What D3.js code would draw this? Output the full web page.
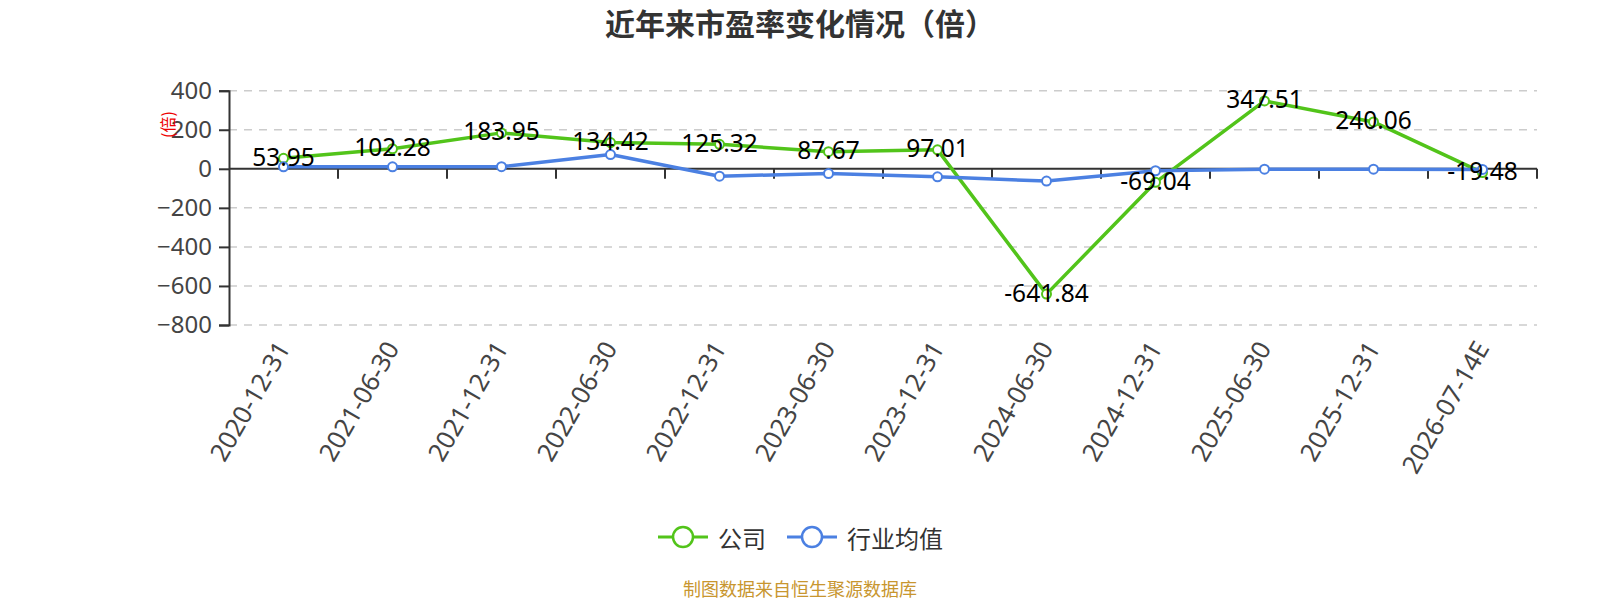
<!DOCTYPE html>
<html>
<head>
<meta charset="utf-8">
<script src="https://cdn.jsdelivr.net/npm/d3@7"></script>
<style>
  html, body { margin: 0; padding: 0; background: #fff; }
  svg { display: block; }
  text { font-family: "Noto Sans", "Noto Sans CJK SC", sans-serif; }
</style>
</head>
<body>
<svg id="chart" width="1600" height="600"></svg>
<script>
const categories = ["2020-12-31","2021-06-30","2021-12-31","2022-06-30","2022-12-31","2023-06-30","2023-12-31","2024-06-30","2024-12-31","2025-06-30","2025-12-31","2026-07-14E"];
const companyPE = [53.95, 102.28, 183.95, 134.42, 125.32, 87.67, 97.01, -641.84, -69.04, 347.51, 240.06, -19.48];
const industryPE = [10, 10, 11, 73, -38, -24, -41, -63, -10, -2, -2, -3];
const yTicks = [400, 200, 0, -200, -400, -600, -800];
const seriesNames = ["公司", "行业均值"];
const titleText = "近年来市盈率变化情况（倍）";
const yAxisName = "(倍)";
const sourceText = "制图数据来自恒生聚源数据库";

(function () {
const GREEN = "#52c41a";
const BLUE = "#4b80e2";

const svg = d3.select("#chart");
const pLeft = 229, pRight = 1537, pTop = 90.7, pBottom = 325;

const x = d3.scaleBand().domain(categories).range([pLeft, pRight]);
const cx = d => x(d) + x.bandwidth() / 2;
const y = d3.scaleLinear().domain([-800, 400]).range([pBottom, pTop]);

// Title
svg.append("text")
  .attr("x", 800).attr("y", 22)
  .attr("text-anchor", "middle").attr("dominant-baseline", "central")
  .style("font-family", "'Noto Sans CJK SC', sans-serif")
  .style("font-size", "30px").style("font-weight", "bold").style("fill", "#333")
  .text(titleText);

// Grid lines
svg.append("g").selectAll("line")
  .data(yTicks.filter(t => t !== 0))
  .join("line")
  .attr("x1", pLeft).attr("x2", pRight)
  .attr("y1", d => y(d)).attr("y2", d => y(d))
  .attr("stroke", "#ccc").attr("stroke-width", 1.5)
  .attr("stroke-dasharray", "8,7");

// Y axis
const yAxis = d3.axisLeft(y).tickValues(yTicks).tickSize(10).tickPadding(7);
const gy = svg.append("g").attr("transform", `translate(${pLeft},0)`).call(yAxis);
gy.select(".domain").attr("stroke", "#333").attr("stroke-width", 2);
gy.selectAll(".tick line").attr("stroke", "#333").attr("stroke-width", 2);
gy.selectAll(".tick text")
  .style("font-size", "24px").style("fill", "#444")
  .style("font-family", "'Noto Sans', sans-serif");

// Y axis name
svg.append("text")
  .attr("transform", "translate(167,124.5) rotate(-90)")
  .attr("text-anchor", "middle").attr("dominant-baseline", "central")
  .style("font-size", "16px").style("fill", "#e00")
  .style("font-family", "'Noto Sans CJK SC', sans-serif")
  .text(yAxisName);

// X axis line at zero
const gx = svg.append("g").attr("transform", `translate(0,${y(0)})`);
gx.append("line").attr("x1", pLeft).attr("x2", pRight).attr("y1", 0).attr("y2", 0)
  .attr("stroke", "#333").attr("stroke-width", 2);
const boundaries = categories.map(c => x(c) + x.bandwidth());
gx.selectAll("line.tk").data(boundaries).join("line").attr("class", "tk")
  .attr("x1", d => d).attr("x2", d => d).attr("y1", 0).attr("y2", 10)
  .attr("stroke", "#333").attr("stroke-width", 2);

// X labels at bottom
svg.append("g").selectAll("text").data(categories).join("text")
  .attr("transform", d => `translate(${cx(d) - 1},${pBottom + 18}) rotate(-60)`)
  .attr("text-anchor", "end").attr("dominant-baseline", "central")
  .style("font-size", "25.5px").style("fill", "#444")
  .text(d => d);

// Lines
const line = d3.line().x((d, i) => cx(categories[i])).y(d => y(d));
function drawSeries(vals, color) {
  svg.append("path").datum(vals).attr("d", line)
    .attr("fill", "none").attr("stroke", color).attr("stroke-width", 3.5)
    .attr("stroke-linejoin", "round");
  svg.append("g").selectAll("circle").data(vals).join("circle")
    .attr("cx", (d, i) => cx(categories[i])).attr("cy", d => y(d))
    .attr("r", 4.5).attr("fill", "#fff").attr("stroke", color).attr("stroke-width", 2);
}
drawSeries(companyPE, GREEN);
drawSeries(industryPE, BLUE);

// Data labels
svg.append("g").selectAll("text").data(companyPE).join("text")
  .attr("x", (d, i) => cx(categories[i])).attr("y", d => y(d) - 2)
  .attr("text-anchor", "middle").attr("dominant-baseline", "central")
  .style("font-size", "24.5px").style("fill", "#000")
  .text(d => d.toFixed(2));

// Legend
const legendItems = [
  { name: seriesNames[0], color: GREEN, x0: 658 },
  { name: seriesNames[1], color: BLUE, x0: 787 }
];
const lg = svg.append("g");
legendItems.forEach(it => {
  lg.append("line").attr("x1", it.x0).attr("x2", it.x0 + 50).attr("y1", 537).attr("y2", 537)
    .attr("stroke", it.color).attr("stroke-width", 3);
  lg.append("circle").attr("cx", it.x0 + 25).attr("cy", 537).attr("r", 10)
    .attr("fill", "#fff").attr("stroke", it.color).attr("stroke-width", 2.5);
  lg.append("text").attr("x", it.x0 + 60).attr("y", 537)
    .attr("dominant-baseline", "central")
    .style("font-family", "'Noto Sans CJK SC', sans-serif")
    .style("font-size", "24px").style("fill", "#333")
    .text(it.name);
});

// Source
svg.append("text").attr("x", 800).attr("y", 588)
  .attr("text-anchor", "middle").attr("dominant-baseline", "central")
  .style("font-family", "'Noto Sans CJK SC', sans-serif")
  .style("font-size", "18px").style("fill", "#c8962f")
  .text(sourceText);
})();
</script>
</body>
</html>
